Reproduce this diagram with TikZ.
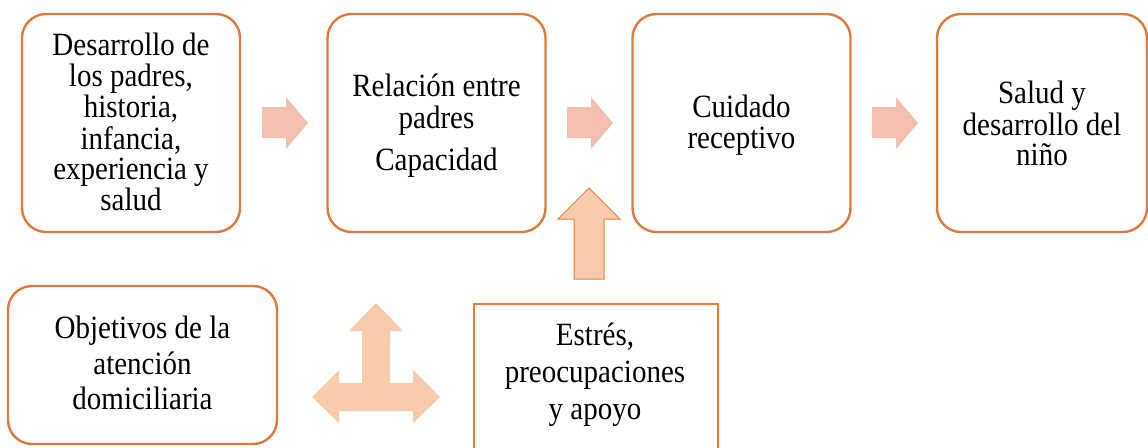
\documentclass[tikz,border=0pt]{standalone}
\usepackage{fontspec}
\usepackage{graphicx}
\setmainfont{Liberation Serif}
\definecolor{boxline}{HTML}{DF7B3A}
\definecolor{boxline2}{HTML}{ED7D31}
\definecolor{arrowA}{HTML}{F4BFAD}
\definecolor{arrowB}{HTML}{F8CBAD}
\newcommand{\vtxt}[2]{\scalebox{1}[1.12]{\fontsize{29}{#1}\selectfont\begin{tabular}{@{}c@{}}#2\end{tabular}}}
\tikzset{
  rbox/.style={draw=boxline, line width=2.4pt, rounded corners=24pt, minimum width=218pt, minimum height=218pt, inner sep=0pt},
  sqbox/.style={draw=boxline2, line width=2.4pt, inner sep=0pt},
  txt/.style={align=center, inner sep=0pt},
  blockA/.style={fill=arrowA, draw=none},
  blockB/.style={fill=arrowB, draw=none},
  blockBo/.style={fill=arrowB, draw=boxline2, line width=1pt},
}
\begin{document}
\begin{tikzpicture}[x=1pt,y=-1pt]
\useasboundingbox (0,0) rectangle (1148,447);
\clip (0,0) rectangle (1148,447);
% top row boxes
\node[rbox] (b1) at (131,123) {};
\node[txt] (t1) at (131,126) {\vtxt{25.9}{Desarrollo de\\los padres,\\historia,\\infancia,\\experiencia y\\salud}};
\node[rbox] (b2) at (436.5,123) {};
\node[txt] (t2) at (436.5,127) {\vtxt{26.4}{Relación entre\\padres\\[10pt]Capacidad}};
\node[rbox] (b3) at (741.5,123) {};
\node[txt] (t3) at (741.5,126) {\vtxt{26.8}{Cuidado\\receptivo}};
\node[rbox, minimum width=210pt] (b4) at (1042,123) {};
\node[txt] (t4) at (1042,128) {\vtxt{26.4}{Salud y\\desarrollo del\\niño}};
% bottom boxes
\node[rbox, minimum width=269pt, minimum height=158pt] (b6) at (142.5,365) {};
\node[txt] (t6) at (142.5,367) {\vtxt{31.7}{Objetivos de la\\atención\\domiciliaria}};
\node[sqbox, minimum width=244pt, minimum height=200pt, anchor=north west] (b5) at (473,303) {};
\node[txt] (t5) at (595,375) {\vtxt{33}{Estrés,\\preocupaciones\\y apoyo}};
% right block arrows
\foreach \x in {262,567,872}{
  \fill[blockA] (\x,107) -- (\x+24,107) -- (\x+24,97) -- (\x+46,123) -- (\x+24,149) -- (\x+24,138) -- (\x,138) -- cycle;
}
% up arrow
\filldraw[blockBo] (574,279) -- (574,219) -- (558,219) -- (589,188) -- (620,219) -- (604,219) -- (604,279) -- cycle;
% three-way arrow
\fill[blockB] (362,383) -- (362,331) -- (349,331) -- (376,303) -- (403,331) -- (390,331) -- (390,383)
  -- (413,383) -- (413,370) -- (440,397) -- (413,423) -- (413,411)
  -- (339,411) -- (339,423) -- (312,397) -- (339,370) -- (339,383) -- cycle;
\end{tikzpicture}
\end{document}
